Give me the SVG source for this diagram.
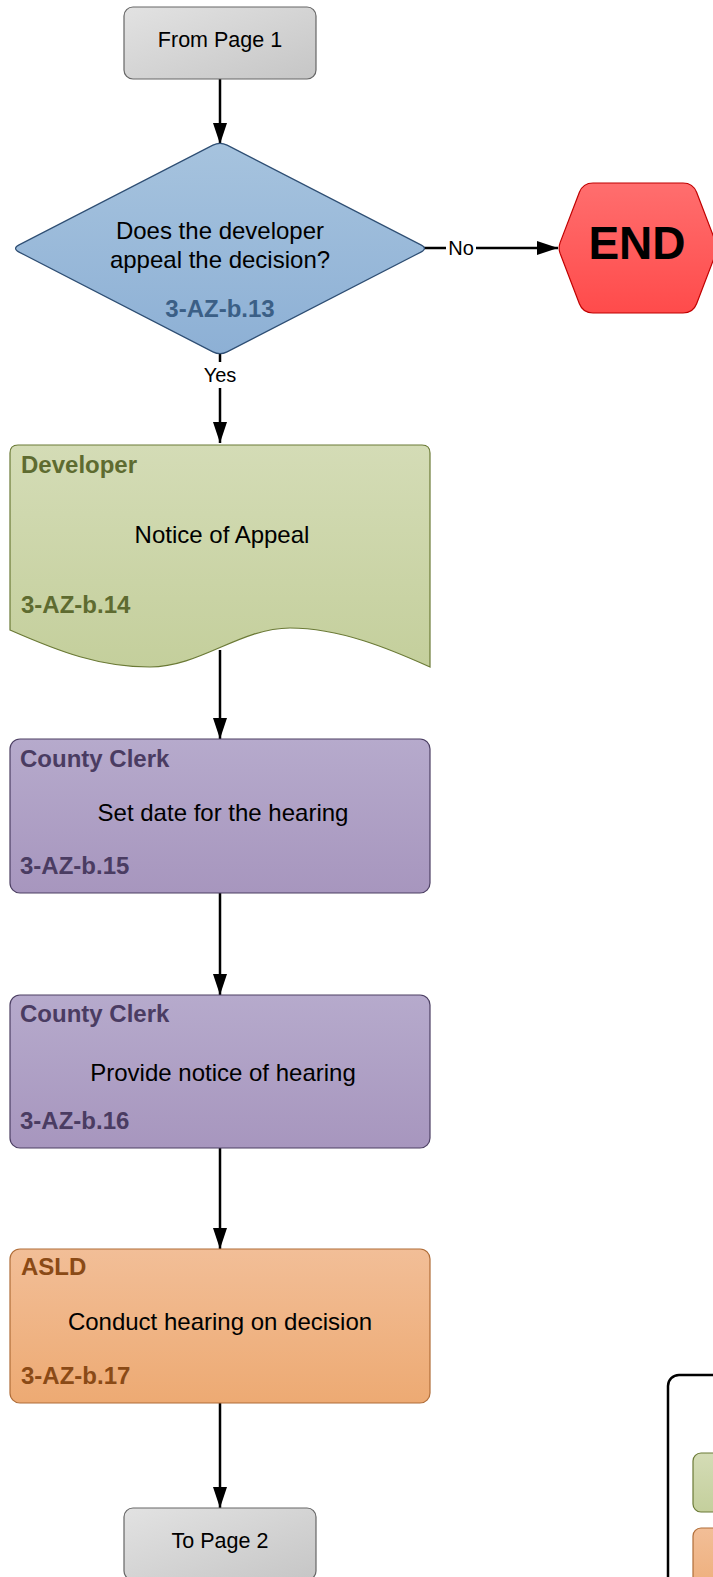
<svg xmlns="http://www.w3.org/2000/svg" width="713" height="1577" viewBox="0 0 713 1577">
<style>
text{font-family:"Liberation Sans",Arial,sans-serif;}
.main{font-size:24px;fill:#000;text-anchor:middle;}
.term{font-size:21.5px;fill:#000;text-anchor:middle;}
.lbl{font-size:20px;fill:#000;text-anchor:middle;}
.hd{font-size:24px;font-weight:bold;}
.conn{stroke:#000;stroke-width:2.5;fill:none;}
</style>
<defs>
<linearGradient id="gGray" x1="0" y1="0" x2="1" y2="1"><stop offset="0" stop-color="#e2e2e2"/><stop offset="1" stop-color="#c6c6c6"/></linearGradient>
<linearGradient id="gBlue" x1="0" y1="0" x2="0" y2="1"><stop offset="0" stop-color="#a6c3de"/><stop offset="1" stop-color="#8db0d5"/></linearGradient>
<linearGradient id="gGreen" x1="0" y1="0" x2="0" y2="1"><stop offset="0" stop-color="#d4dcb6"/><stop offset="1" stop-color="#c4cf9c"/></linearGradient>
<linearGradient id="gPurple" x1="0" y1="0" x2="0" y2="1"><stop offset="0" stop-color="#b6aacc"/><stop offset="1" stop-color="#a796be"/></linearGradient>
<linearGradient id="gOrange" x1="0" y1="0" x2="0" y2="1"><stop offset="0" stop-color="#f2be97"/><stop offset="1" stop-color="#edaa73"/></linearGradient>
<linearGradient id="gRed" x1="0" y1="0" x2="0" y2="1"><stop offset="0" stop-color="#ff6e6e"/><stop offset="1" stop-color="#ff4b4b"/></linearGradient>
<marker id="arr" markerUnits="userSpaceOnUse" markerWidth="22" markerHeight="15" refX="21" refY="7" orient="auto"><path d="M0,0 L21,7 L0,14 Z" fill="#000"/></marker>
</defs>

<g id="connectors">
<line class="conn" x1="220" y1="79" x2="220" y2="144" marker-end="url(#arr)"/>
<line class="conn" x1="220" y1="353" x2="220" y2="443" marker-end="url(#arr)"/>
<line class="conn" x1="424" y1="248" x2="558" y2="248" marker-end="url(#arr)"/>
<line class="conn" x1="220" y1="650" x2="220" y2="739" marker-end="url(#arr)"/>
<line class="conn" x1="220" y1="893" x2="220" y2="995" marker-end="url(#arr)"/>
<line class="conn" x1="220" y1="1148" x2="220" y2="1249" marker-end="url(#arr)"/>
<line class="conn" x1="220" y1="1403" x2="220" y2="1508" marker-end="url(#arr)"/>
<rect x="200" y="362" width="40" height="26" fill="#fff"/>
<text class="lbl" x="220" y="382">Yes</text>
<rect x="446" y="236" width="30" height="24" fill="#fff"/>
<text class="lbl" x="461" y="255">No</text>
</g>

<g id="from-page-1">
<rect x="124" y="7" width="192" height="72" rx="9" fill="url(#gGray)" stroke="#666" stroke-width="1.2"/>
<text class="term" x="220" y="47">From Page 1</text>
</g>

<g id="decision">
<path d="M212.9,145.1 Q220,141.5 227.1,145.1 L420.9,244.9 Q428,248.5 420.9,252.1 L227.1,351.9 Q220,355.5 212.9,351.9 L19.1,252.1 Q12,248.5 19.1,244.9 Z" fill="url(#gBlue)" stroke="#2e4e73" stroke-width="1.2"/>
<text class="main" x="220" y="239">Does the developer</text>
<text class="main" x="220" y="268">appeal the decision?</text>
<text class="hd" x="220" y="317" text-anchor="middle" fill="#3b5f86">3-AZ-b.13</text>
</g>

<g id="end">
<path d="M560.2,253.6 Q558,248 560.2,242.4 L579.4,192.3 Q583,183 593,183 L683,183 Q693,183 696.6,192.3 L715.8,242.4 Q718,248 715.8,253.6 L696.6,303.7 Q693,313 683,313 L593,313 Q583,313 579.4,303.7 Z" fill="url(#gRed)" stroke="#c00000" stroke-width="1.2"/>
<text x="637" y="259" font-size="46" font-weight="bold" text-anchor="middle" fill="#000">END</text>
</g>

<g id="developer">
<path d="M10,453 Q10,445 18,445 L422,445 Q430,445 430,453 L430,667 C390,649 340,628 290,628 C240,628 200,667 150,667 C100,667 60,652 10,630 Z" fill="url(#gGreen)" stroke="#6b7a36" stroke-width="1.2"/>
<text class="hd" x="21" y="473" fill="#5e6b30">Developer</text>
<text class="main" x="222" y="543">Notice of Appeal</text>
<text class="hd" x="21" y="613" fill="#5e6b30">3-AZ-b.14</text>
</g>

<g id="set-date">
<rect x="10" y="739" width="420" height="154" rx="10" fill="url(#gPurple)" stroke="#4c3f63" stroke-width="1.2"/>
<text class="hd" x="20" y="767" fill="#4a3c62">County Clerk</text>
<text class="main" x="223" y="821">Set date for the hearing</text>
<text class="hd" x="20" y="874" fill="#4a3c62">3-AZ-b.15</text>
</g>

<g id="provide-notice">
<rect x="10" y="995" width="420" height="153" rx="10" fill="url(#gPurple)" stroke="#4c3f63" stroke-width="1.2"/>
<text class="hd" x="20" y="1022" fill="#4a3c62">County Clerk</text>
<text class="main" x="223" y="1081">Provide notice of hearing</text>
<text class="hd" x="20" y="1129" fill="#4a3c62">3-AZ-b.16</text>
</g>

<g id="conduct-hearing">
<rect x="10" y="1249" width="420" height="154" rx="10" fill="url(#gOrange)" stroke="#b06d38" stroke-width="1.2"/>
<text class="hd" x="21" y="1275" fill="#8a4a16">ASLD</text>
<text class="main" x="220" y="1330">Conduct hearing on decision</text>
<text class="hd" x="21" y="1384" fill="#8a4a16">3-AZ-b.17</text>
</g>

<g id="to-page-2">
<rect x="124" y="1508" width="192" height="72" rx="9" fill="url(#gGray)" stroke="#666" stroke-width="1.2"/>
<text class="term" x="220" y="1548">To Page 2</text>
</g>

<g id="legend">
<rect x="668" y="1375" width="120" height="260" rx="11" fill="#fff" stroke="#000" stroke-width="2.5"/>
<rect x="693" y="1453" width="60" height="59" rx="8" fill="url(#gGreen)" stroke="#6b7a36" stroke-width="1.2"/>
<rect x="693" y="1528" width="60" height="80" rx="8" fill="url(#gOrange)" stroke="#b06d38" stroke-width="1.2"/>
</g>
</svg>
